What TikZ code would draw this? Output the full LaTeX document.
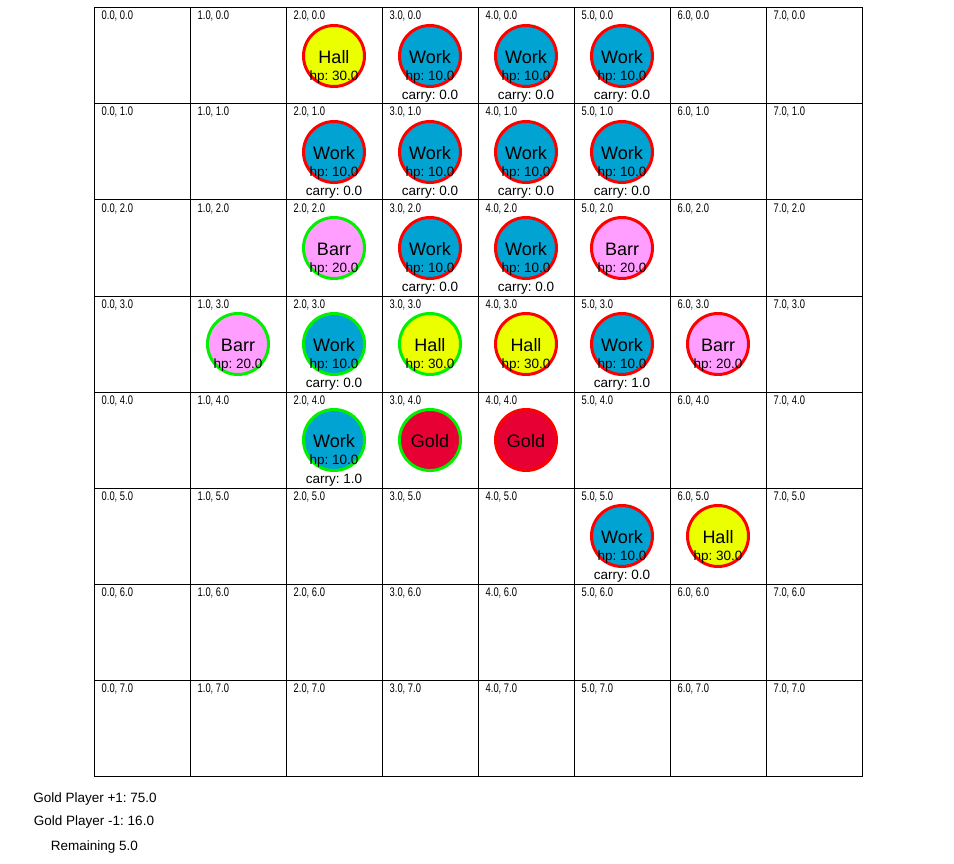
\documentclass[tikz,border=0pt]{standalone}
\usepackage{fontspec}
\setmainfont{Liberation Sans}
\newfontfamily\narrowfont[FakeStretch=0.75]{Liberation Sans}
\usetikzlibrary{positioning}

\definecolor{workblue}{RGB}{0,163,209}
\definecolor{hallyellow}{RGB}{236,255,0}
\definecolor{barrpink}{RGB}{255,158,255}
\definecolor{goldred}{RGB}{230,0,52}
\definecolor{sidered}{RGB}{255,0,0}
\definecolor{sidegreen}{RGB}{0,240,0}

\frenchspacing

\begin{document}
\begin{tikzpicture}[
        x=1pt, y=-1pt,
        % grid cells
        cell/.style={
            rectangle,
            draw=black,
            line width=1pt,
            minimum size=96pt,
            inner sep=0pt
        },
        celllabel/.style={
            inner sep=0pt,
            anchor=base west,
            font=\narrowfont\fontsize{12.5}{12.5}\selectfont
        },
        % units on the board
        unit/.style={
            circle,
            fill=#1,
            line width=3pt,
            minimum size=61pt,
            inner sep=0pt
        },
        unitname/.style={
            inner sep=0pt,
            anchor=base,
            font=\fontsize{18}{18}\selectfont
        },
        unitinfo/.style={
            inner sep=0pt,
            anchor=base,
            font=\fontsize{13.5}{13.5}\selectfont
        },
        score/.style={
            inner sep=0pt,
            anchor=base,
            font=\fontsize{13.5}{13.5}\selectfont
        }
    ]

    \useasboundingbox[fill=white] (0,0) rectangle (954,864);

    % ================= board =================
    \foreach \i in {0,...,7} {
        \foreach \j in {0,...,7} {
            \node[cell] (c\i\j) at (142+96*\i, 56+96*\j) {};
            \node[celllabel] (l\i\j) at ([xshift=8pt, yshift=-12.5pt]c\i\j.north west) {\i.0, \j.0};
        }
    }

    % ================= workers =================
    \foreach \x/\y/\side/\carry in {3/0/sidered/0.0, 4/0/sidered/0.0, 5/0/sidered/0.0,
            2/1/sidered/0.0, 3/1/sidered/0.0, 4/1/sidered/0.0, 5/1/sidered/0.0,
            3/2/sidered/0.0, 4/2/sidered/0.0,
            2/3/sidegreen/0.0, 5/3/sidered/1.0,
            2/4/sidegreen/1.0,
            5/5/sidered/0.0} {
        \node[unit=workblue, draw=\side] (u\x\y) at (c\x\y) {};
        \node[unitname] at ([yshift=-7.7pt]u\x\y.center) {Work};
        \node[unitinfo] at ([yshift=-24.7pt]u\x\y.center) {hp: 10.0};
        \node[unitinfo] at ([yshift=-43.7pt]u\x\y.center) {carry: \carry};
    }

    % ================= town halls =================
    \foreach \x/\y/\side in {2/0/sidered, 3/3/sidegreen, 4/3/sidered, 6/5/sidered} {
        \node[unit=hallyellow, draw=\side] (u\x\y) at (c\x\y) {};
        \node[unitname] at ([yshift=-7.7pt]u\x\y.center) {Hall};
        \node[unitinfo] at ([yshift=-24.7pt]u\x\y.center) {hp: 30.0};
    }

    % ================= barracks =================
    \foreach \x/\y/\side in {2/2/sidegreen, 5/2/sidered, 1/3/sidegreen, 6/3/sidered} {
        \node[unit=barrpink, draw=\side] (u\x\y) at (c\x\y) {};
        \node[unitname] at ([yshift=-7.7pt]u\x\y.center) {Barr};
        \node[unitinfo] at ([yshift=-24.7pt]u\x\y.center) {hp: 20.0};
    }

    % ================= gold =================
    \foreach \x/\y/\side in {3/4/sidegreen, 4/4/sidered} {
        \node[unit=goldred, draw=\side] (u\x\y) at (c\x\y) {};
        \node[unitname] at ([yshift=-7.7pt]u\x\y.center) {Gold};
    }

    % ================= scores =================
    \node[score] (goldplus) at (95,802.7) {Gold Player +1: 75.0};
    \node[score] (goldminus) at (94,825) {Gold Player -1: 16.0};
    \node[score] (remaining) at (94.5,850) {Remaining 5.0};

\end{tikzpicture}
\end{document}
